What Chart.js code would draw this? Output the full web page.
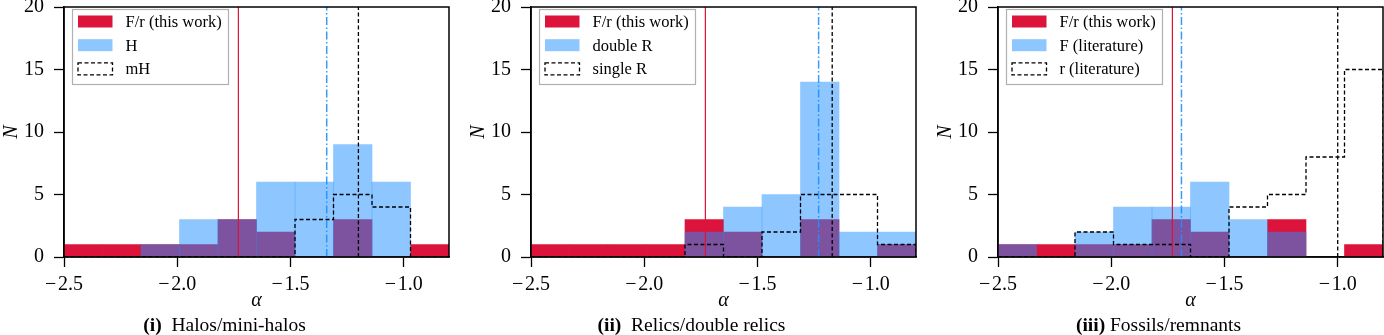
<!DOCTYPE html>
<html>
<head>
<meta charset="utf-8">
<script src="https://cdn.jsdelivr.net/npm/chart.js@4.4.1/dist/chart.umd.min.js"></script>
<style>
  html, body { margin: 0; padding: 0; background: #fff; }
  #wrap { position: relative; width: 1384px; height: 335px; overflow: hidden; }
  canvas { position: absolute; top: 0; }
  .cap {
    position: absolute; top: 314px; width: 449px; text-align: center;
    font-family: 'Liberation Serif', serif; font-size: 19.5px; line-height: 22px;
    color: #000; white-space: nowrap;
  }
</style>
</head>
<body>
<div id="wrap">
  <canvas id="c1" width="450" height="335" style="left:0"></canvas>
  <canvas id="c2" width="450" height="335" style="left:467px"></canvas>
  <canvas id="c3" width="450" height="335" style="left:934px"></canvas>
  <div class="cap" style="left:0"><b>(i)</b>&ensp;Halos/mini-halos</div>
  <div class="cap" style="left:467px"><b>(ii)</b>&ensp;Relics/double relics</div>
  <div class="cap" style="left:934px"><b>(iii)</b> Fossils/remnants</div>
</div>
<script>
// histogram bins (spectral index alpha)
const binEdges = [-2.5, -2.33, -2.16, -1.99, -1.82, -1.65, -1.48, -1.31, -1.14, -0.97, -0.8];
const xTicks = [-2.5, -2.0, -1.5, -1.0];
const yTicks = [0, 5, 10, 15, 20];

// counts per bin
const thisWork     = [1, 1, 1, 1, 3, 2, 0, 3, 0, 1];
const halos        = [0, 0, 1, 3, 3, 6, 6, 9, 6, 0];
const miniHalos    = [0, 0, 0, 0, 0, 0, 3, 5, 4, 0];
const doubleRelics = [0, 0, 0, 0, 2, 4, 5, 14, 2, 2];
const singleRelics = [0, 0, 0, 0, 1, 0, 2, 5, 5, 1];
const fossilsLit   = [1, 0, 2, 4, 4, 6, 3, 2, 0, 0];
const remnantsLit  = [0, 0, 2, 1, 1, 0, 4, 5, 8, 15];

// mean values (vertical lines)
const thisWorkMean = -1.73;
const halosMean = -1.34, miniHalosMean = -1.20;
const doubleMean = -1.23, singleMean = -1.17;
const fossilsMean = -1.69, remnantsMean = -1.00;

const RED = '#dc143c';
const BLUE = 'rgba(30,144,255,0.5)';
const SERIF = "'Liberation Serif', 'Times New Roman', serif";

function barPoints(counts) {
	return counts.map((n, i) => ({x: (binEdges[i] + binEdges[i + 1]) / 2, y: n}));
}

function stepPoints(counts) {
	let pts = [{x: binEdges[0], y: 0}];
	counts.forEach((n, i) => pts.push({x: binEdges[i], y: n}));
	pts.push({x: binEdges[binEdges.length - 1], y: 0});
	return pts;
}

function vline(x) {
	return [{x: x, y: yTicks[0]}, {x: x, y: yTicks[yTicks.length - 1]}];
}

const minus = s => s.replace('-', '\u2212\u200a');

function noPadding(s) {
	s.paddingTop = 0;
	s.paddingBottom = 0;
	s.paddingLeft = 0;
	s.paddingRight = 0;
}

// frame around plot area
const frame = {
	id: 'frame',
	afterDatasetsDraw(chart) {
		const a = chart.chartArea, ctx = chart.ctx;
		ctx.save();
		ctx.strokeStyle = '#000';
		ctx.lineWidth = 1.5;
		ctx.strokeRect(a.left, a.top, a.right - a.left, a.bottom - a.top);
		ctx.restore();
	}
};

// matplotlib-like legend inside the axes
const boxLegend = {
	id: 'boxLegend',
	afterDraw(chart) {
		const ctx = chart.ctx, a = chart.chartArea;
		const items = chart.data.datasets.filter(d => d.swatch);
		const x0 = a.left + 8, y0 = a.top + 2, w = 156, h = 75;
		ctx.save();
		ctx.fillStyle = 'rgba(255,255,255,0.8)';
		ctx.fillRect(x0, y0, w, h);
		ctx.strokeStyle = '#b0b0b0';
		ctx.lineWidth = 1.2;
		ctx.strokeRect(x0 + 0.5, y0 + 0.5, w, h);
		items.forEach((d, i) => {
			const cy = y0 + 12.5 + i * 23.7;
			const sx = x0 + 6, sw = 34.5, sh = 12;
			if (d.swatch === 'fill') {
				ctx.fillStyle = d.backgroundColor;
				ctx.fillRect(sx, cy - sh / 2, sw, sh);
			} else {
				ctx.setLineDash(d.borderDash);
				ctx.strokeStyle = d.borderColor;
				ctx.lineWidth = d.borderWidth;
				ctx.strokeRect(sx, cy - sh / 2, sw, sh);
				ctx.setLineDash([]);
			}
			ctx.fillStyle = '#000';
			ctx.font = '16.5px ' + SERIF;
			ctx.textBaseline = 'middle';
			ctx.fillText(d.label, x0 + 53.5, cy + 1);
		});
		ctx.restore();
	}
};

function makePanel(id, fillLabel, fillCounts, fillMean, stepLabel, stepCounts, stepMean) {
	const datasets = [
		{
			type: 'bar', label: 'F/r (this work)', swatch: 'fill',
			data: barPoints(thisWork), backgroundColor: RED,
			barPercentage: 1, categoryPercentage: 1, grouped: false, borderWidth: 0, order: 3
		},
		{
			type: 'bar', label: fillLabel, swatch: 'fill',
			data: barPoints(fillCounts), backgroundColor: BLUE,
			barPercentage: 1, categoryPercentage: 1, grouped: false, borderWidth: 0, order: 2
		},
		{
			type: 'line', label: stepLabel, swatch: 'dash',
			data: stepPoints(stepCounts), stepped: true, fill: false,
			borderColor: '#000', borderWidth: 1.3, borderDash: [4, 2.5],
			pointRadius: 0, order: 1
		},
		{
			type: 'line', data: vline(thisWorkMean), borderColor: RED, borderWidth: 1.2,
			pointRadius: 0, fill: false, order: 0
		},
		{
			type: 'line', data: vline(fillMean), borderColor: 'rgba(30,144,255,0.9)', borderWidth: 1.5,
			borderDash: [8, 2.5, 1.5, 2.5], pointRadius: 0, fill: false, order: 0
		},
		{
			type: 'line', data: vline(stepMean), borderColor: '#000', borderWidth: 1.3,
			borderDash: [4, 2.5], pointRadius: 0, fill: false, order: 0
		}
	];

	new Chart(document.getElementById(id), {
		type: 'bar',
		data: {datasets: datasets},
		options: {
			responsive: false,
			animation: false,
			devicePixelRatio: 1,
			layout: {padding: {left: 0, right: 1, top: 7, bottom: 0}},
			plugins: {legend: {display: false}, tooltip: {enabled: false}},
			scales: {
				x: {
					type: 'linear',
					offset: false,
					min: binEdges[0],
					max: binEdges[binEdges.length - 1],
					afterBuildTicks: s => { s.ticks = xTicks.map(v => ({value: v})); },
					afterFit: s => { s.height = 78; noPadding(s); },
					ticks: {
						callback: v => minus(v.toFixed(1)),
						color: '#000', font: {family: SERIF, size: 20}, padding: 6,
						maxRotation: 0, autoSkip: false
					},
					grid: {offset: false, drawOnChartArea: false, tickLength: 10, tickColor: '#000', tickWidth: 1.3},
					border: {color: '#000', width: 1.5},
					title: {
						display: true, text: 'α', color: '#000',
						font: {family: SERIF, size: 20, style: 'italic'},
						padding: {top: 0, bottom: 22}
					}
				},
				y: {
					min: yTicks[0],
					max: yTicks[yTicks.length - 1],
					afterBuildTicks: s => { s.ticks = yTicks.map(v => ({value: v})); },
					afterFit: s => { s.width = 64; noPadding(s); },
					ticks: {
						callback: v => String(v),
						color: '#000', font: {family: SERIF, size: 20}, padding: 10
					},
					grid: {drawOnChartArea: false, tickLength: 10, tickColor: '#000', tickWidth: 1.3},
					border: {color: '#000', width: 1.5},
					title: {
						display: true, text: 'N', color: '#000',
						font: {family: SERIF, size: 20, style: 'italic'},
						padding: {top: 0, bottom: 0}
					}
				}
			}
		},
		plugins: [frame, boxLegend]
	});
}

makePanel('c1', 'H', halos, halosMean, 'mH', miniHalos, miniHalosMean);
makePanel('c2', 'double R', doubleRelics, doubleMean, 'single R', singleRelics, singleMean);
makePanel('c3', 'F (literature)', fossilsLit, fossilsMean, 'r (literature)', remnantsLit, remnantsMean);
</script>
</body>
</html>
